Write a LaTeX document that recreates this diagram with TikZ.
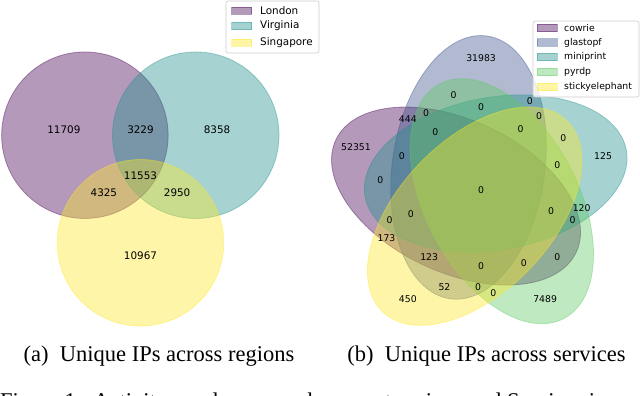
\documentclass[tikz,border=0pt]{standalone}
\usepackage{fontspec}
\setmainfont{Liberation Serif}
\newfontfamily\mplfont{DejaVu Sans}
\usepackage{tikz}
\usetikzlibrary{positioning}
\definecolor{cowriecol}{HTML}{440154}
\definecolor{glastopfcol}{HTML}{3B528B}
\definecolor{minicol}{HTML}{21918C}
\definecolor{pyrdpcol}{HTML}{5EC962}
\definecolor{stickycol}{HTML}{FDE725}
\definecolor{keyedge}{HTML}{CCCCCC}

\begin{document}
\begin{tikzpicture}[
  x=1pt, y=1pt,
  venn/.style={line width=0.8pt, fill opacity=0.4, draw opacity=0.4},
  cnta/.style={font=\mplfont\fontsize{10.4}{12}\selectfont, inner sep=0pt},
  cntb/.style={font=\mplfont\fontsize{9.3}{11}\selectfont, inner sep=0pt},
  keybox/.style={draw=keyedge, fill=white, fill opacity=0.8, rounded corners=2pt, line width=0.6pt},
  keypatch/.style={venn, line width=0.7pt, minimum width=20pt, minimum height=7.5pt, inner sep=0pt},
  subcap/.style={font=\fontsize{22.5}{26}\selectfont, anchor=base}]
\useasboundingbox (0,0) rectangle (640,396);

% ============================================== left: three regions
\begin{scope}[shift={(-26pt,50pt)}, x=333pt, y=333pt]
  \path[venn, fill=cowriecol, draw=cowriecol] (0.333,0.633) circle [radius=0.25];
  \path[venn, fill=minicol, draw=minicol] (0.666,0.633) circle [radius=0.25];
  \path[venn, fill=stickycol, draw=stickycol] (0.500,0.310) circle [radius=0.25];
  % counts per region
  \foreach \xx/\yy/\val/\nm in {0.27/0.65/11709/100, 0.50/0.65/3229/110,
      0.73/0.65/8358/010, 0.50/0.51/11553/111, 0.39/0.46/4325/101,
      0.61/0.46/2950/011, 0.50/0.27/10967/001}
    \node[cnta] (reg\nm) at (\xx,\yy) {\val};
\end{scope}

% legend
\path[keybox] (226,395) rectangle (319,343);
\node[keypatch, fill=cowriecol, draw=cowriecol] (keylondon) at (241.5,385.3) {};
\node[keypatch, fill=minicol, draw=minicol] (keyvirginia) at (241.5,370) {};
\node[keypatch, fill=stickycol, draw=stickycol] (keysingapore) at (241.5,353.3) {};
\node[cnta, anchor=west] (txtlondon) at (260,385.3) {London};
\node[cnta, anchor=west] (txtvirginia) at (260,370) {Virginia};
\node[cnta, anchor=west] (txtsingapore) at (260,353.3) {Singapore};

\node[subcap] (capa) at (159,34) {(a)\ \ Unique IPs across regions};

% ============================================== right: five services
\begin{scope}[shift={(325.5pt,63pt)}, x=305pt, y=305pt]
  \foreach \cx/\cy/\ang/\col in {0.428/0.449/155/cowriecol,
      0.469/0.543/82/glastopfcol, 0.558/0.523/10/minicol,
      0.578/0.432/118/pyrdpcol, 0.489/0.383/46/stickycol}
    \path[venn, fill=\col, draw=\col] (\cx,\cy)
      circle [x radius=0.435, y radius=0.25, rotate=\ang];
  % counts per combination
  \foreach \xx/\yy/\val/\nm in {
      0.27/0.11/450/00001, 0.72/0.11/7489/00010, 0.55/0.13/0/00011,
      0.91/0.58/125/00100, 0.78/0.64/0/00101, 0.84/0.41/120/00110,
      0.76/0.55/0/00111, 0.51/0.90/31983/01000, 0.39/0.15/52/01001,
      0.42/0.78/0/01010, 0.50/0.15/0/01011, 0.67/0.76/0/01100,
      0.70/0.71/0/01101, 0.51/0.74/0/01110, 0.64/0.67/0/01111,
      0.10/0.61/52351/10000, 0.20/0.31/173/10001, 0.76/0.25/0/10010,
      0.65/0.23/0/10011, 0.18/0.50/0/10100, 0.21/0.37/0/10101,
      0.81/0.37/0/10110, 0.74/0.40/0/10111, 0.27/0.70/444/11000,
      0.34/0.25/123/11001, 0.33/0.72/0/11010, 0.51/0.22/0/11011,
      0.25/0.58/0/11100, 0.28/0.39/0/11101, 0.36/0.66/0/11110,
      0.51/0.47/0/11111}
    \node[cntb] (srv\nm) at (\xx,\yy) {\val};
\end{scope}

% legend
\path[keybox] (533,375) rectangle (639,299);
\foreach \yy/\col/\nm in {368/cowriecol/cowrie, 353.5/glastopfcol/glastopf,
    339/minicol/miniprint, 324/pyrdpcol/pyrdp, 309/stickycol/stickyelephant}
{
  \node[keypatch, fill=\col, draw=\col] (key\nm) at (547,\yy) {};
  \node[cntb, anchor=west] (txt\nm) at (564,\yy) {\nm};
}

\node[subcap] (capb) at (486.5,34) {(b)\ \ Unique IPs across services};

% ---------------------------------------------------------------- cut-off figure line
\begin{scope}
  \clip (0,0) rectangle (640,396);
  \node[font=\fontsize{22.5}{26}\selectfont, anchor=base west, inner sep=0pt] (figline)
    at (0,-13) {Figure 1:\ \ Activity overlap across honeypot regions and Services in};
\end{scope}

\end{tikzpicture}
\end{document}
